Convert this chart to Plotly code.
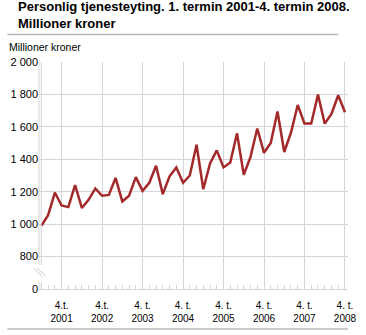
import plotly.graph_objects as go

# Turnover per termin (two-month period), million NOK
years = [2001, 2002, 2003, 2004, 2005, 2006, 2007, 2008]
values_2001 = [990, 1055, 1195, 1115, 1105, 1240]
values_2002 = [1100, 1150, 1220, 1175, 1180, 1285]
values_2003 = [1140, 1175, 1290, 1205, 1255, 1360]
values_2004 = [1185, 1295, 1350, 1255, 1300, 1490]
values_2005 = [1215, 1375, 1455, 1350, 1380, 1560]
values_2006 = [1305, 1415, 1590, 1440, 1500, 1695]
values_2007 = [1445, 1565, 1735, 1620, 1620, 1800]
values_2008 = [1620, 1680, 1795, 1690]

values = (values_2001 + values_2002 + values_2003 + values_2004
          + values_2005 + values_2006 + values_2007 + values_2008)
x_idx = list(range(len(values)))

# x labels at 4th termin of every year
x_tick_pos = [3 + 6 * k for k in range(len(years))]
x_tick_text = [("4.t." if y < 2003 else "4. t.") + "<br>" + str(y) for y in years]

# y axis with a break: bottom tick shows 0, placed where 600 would be
y_tick_vals = [600, 800, 1000, 1200, 1400, 1600, 1800, 2000]
y_tick_text = ["0", "800", "1 000", "1 200", "1 400", "1 600", "1 800", "2 000"]

FONT = "Liberation Sans, Arial, sans-serif"
GRID = "#d4d5dc"
W, H = 366, 335
ML, MR, MT, MB = 33, 10, 62, 46
PW, PH = W - ML - MR, H - MT - MB


def px(x):
    return (x - ML) / PW


def py(y):
    return (H - MB - y) / PH


fig = go.Figure()
fig.add_trace(go.Scatter(
    x=x_idx, y=values, mode="lines",
    line=dict(color="#a3292b", width=2.5),
    hoverinfo="skip", showlegend=False,
))

shapes = []
# broken vertical axis lines
for xp in (33, 35.3):
    shapes.append(dict(type="line", xref="paper", yref="paper",
                       x0=px(xp), x1=px(xp), y0=py(62), y1=py(265),
                       line=dict(color=GRID, width=1)))
    shapes.append(dict(type="line", xref="paper", yref="paper",
                       x0=px(xp), x1=px(xp), y0=py(282), y1=py(289),
                       line=dict(color=GRID, width=1)))
# axis-break marks
for off in (0, 3):
    shapes.append(dict(type="line", xref="paper", yref="paper",
                       x0=px(28 + off), x1=px(37 + off), y0=py(269 - off * 0.3), y1=py(277 - off * 0.3),
                       line=dict(color="#c8c8d0", width=1)))
# header and footer rules
shapes.append(dict(type="line", xref="paper", yref="paper",
                   x0=px(0), x1=px(346), y0=py(34.5), y1=py(34.5),
                   line=dict(color="#b8b8b8", width=1.5)))
shapes.append(dict(type="line", xref="paper", yref="paper",
                   x0=px(0), x1=px(356), y0=py(329), y1=py(329),
                   line=dict(color="#b8b8b8", width=1.5)))

fig.update_layout(
    width=W, height=H,
    margin=dict(l=ML, r=MR, t=MT, b=MB),
    paper_bgcolor="white", plot_bgcolor="white",
    font=dict(family=FONT, color="#000000"),
    shapes=shapes,
    annotations=[
        dict(
            text="<b>Personlig tjenesteyting. 1. termin 2001-4. termin 2008.</b>",
            xref="paper", yref="paper", x=px(9), y=py(7),
            xanchor="left", yanchor="middle", align="left",
            showarrow=False, font=dict(size=13, family=FONT, color="#000000"),
        ),
        dict(
            text="<b>Millioner kroner</b>",
            xref="paper", yref="paper", x=px(9), y=py(23.5),
            xanchor="left", yanchor="middle", align="left",
            showarrow=False, font=dict(size=13, family=FONT, color="#000000"),
        ),
        dict(
            text="Millioner kroner", xref="paper", yref="paper",
            x=px(0), y=py(46.5), xanchor="left", yanchor="middle",
            showarrow=False, font=dict(size=10.5, family=FONT, color="#000000"),
        ),
    ],
    xaxis=dict(
        range=[-0.35, 45.45],
        tickmode="array", tickvals=x_tick_pos, ticktext=x_tick_text,
        showgrid=True, gridcolor=GRID, gridwidth=1,
        zeroline=False, showline=True, linecolor=GRID, linewidth=1,
        ticks="", ticklabelstandoff=7,
        tickfont=dict(size=10, family=FONT, color="#000000"),
        minor=dict(ticks="inside", ticklen=4, tickcolor=GRID,
                   tickmode="linear", tick0=0, dtick=1, showgrid=False),
        fixedrange=True,
    ),
    yaxis=dict(
        range=[600, 2000],
        tickmode="array", tickvals=y_tick_vals, ticktext=y_tick_text,
        showgrid=True, gridcolor=GRID, gridwidth=1,
        zeroline=False, showline=False, ticks="",
        tickfont=dict(size=11, family=FONT, color="#000000"),
        fixedrange=True,
    ),
)

fig.write_html("out.html")
